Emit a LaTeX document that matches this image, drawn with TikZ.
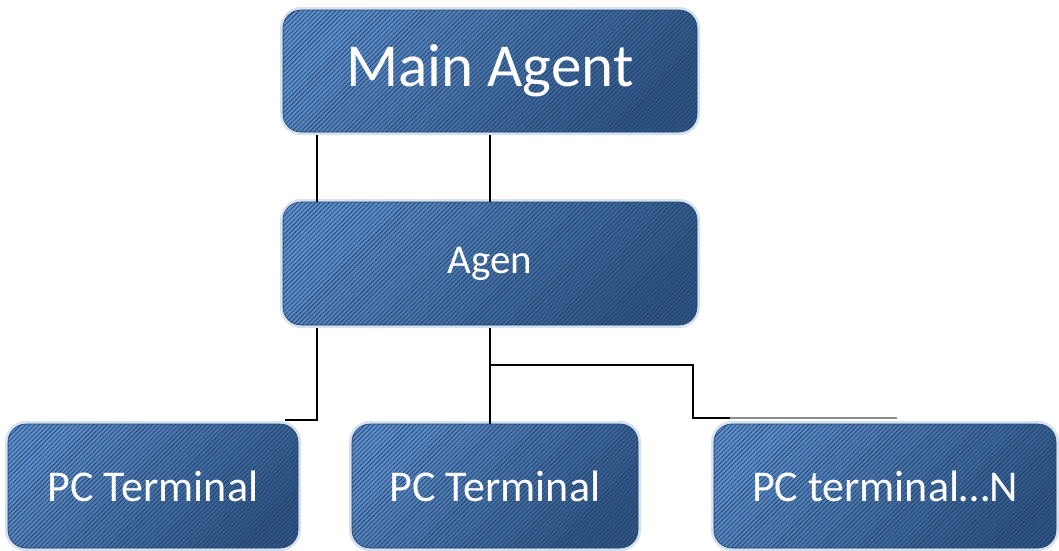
\documentclass[tikz,border=0pt]{standalone}
\usepackage{fontspec}
\setmainfont{Carlito}
\usetikzlibrary{patterns.meta}
\definecolor{boxlight}{HTML}{5C8DCB}
\definecolor{boxdark}{HTML}{2F5586}
\definecolor{glow}{HTML}{D3E1F0}
\definecolor{greyline}{HTML}{8C8C8C}
\tikzset{
  orgbox/.style={rounded corners=18pt, text=white, inner sep=0pt,
    top color=boxlight, bottom color=boxdark, shading angle=45,
    preaction={draw=glow, line width=6pt},
    postaction={pattern={Lines[angle=45,distance=3.2pt,line width=0.6pt]}, pattern color=boxdark!70!black, fill opacity=0.2},
    draw=boxdark!80!black, line width=0.6pt},
  link/.style={draw=black, line width=1.6pt},
  faint/.style={draw=greyline, line width=1.6pt}
}
\begin{document}
\begin{tikzpicture}[x=1pt,y=-1pt]
\useasboundingbox (0,0) rectangle (1059,550);
\node[orgbox, minimum width=414pt, minimum height=122pt, font=\fontsize{61}{70}\selectfont] (main) at (490,71) {Main Agent};
\node[orgbox, minimum width=414pt, minimum height=123pt, font=\fontsize{41}{48}\selectfont] (agen) at (490,263.5) {Agen};
\node[orgbox, minimum width=290pt, minimum height=124pt, font=\fontsize{44}{50}\selectfont] (pc1) at (153,486) {PC Terminal};
\node[orgbox, minimum width=286pt, minimum height=124pt, font=\fontsize{44}{50}\selectfont] (pc2) at (495,486) {PC Terminal};
\node[orgbox, minimum width=342pt, minimum height=124pt, font=\fontsize{44}{50}\selectfont] (pc3) at (885,486) {PC terminal\ldots N};
% main -> agen
\draw[link] (main.south -| 317,0) ++(0,3) -- (agen.north -| 317,0);
\draw[link] (main.south -| 490,0) ++(0,3) -- (agen.north -| 490,0);
% agen -> terminals
\coordinate (c1) at (285,420);
\draw[link] (agen.south -| 317,0) ++(0,3) |- (c1);
\draw[link] (agen.south -| 490,0) ++(0,3) -- (pc2.north -| 490,0);
\coordinate (b1) at (490,365);
\coordinate (b2) at (730,418);
\coordinate (b3) at (897,418);
\draw[link] (b1) -| (693,418) -- (b2);
\draw[faint] (b2) -- (b3);
\end{tikzpicture}
\end{document}
